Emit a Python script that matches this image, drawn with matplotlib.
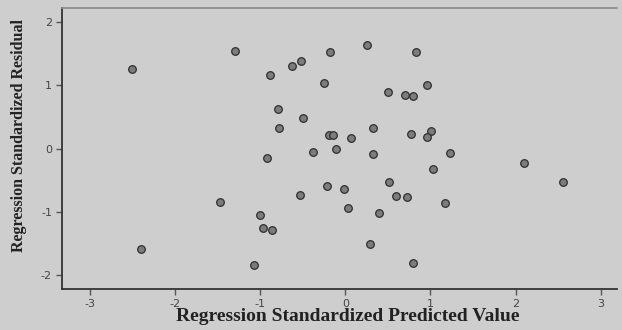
import matplotlib
matplotlib.use("Agg")
import matplotlib.pyplot as plt

# standardized predicted values (x) and standardized residuals (y)
pred = [-2.50, -1.30, -0.89, -0.63, -0.52, -0.18, 0.26, 0.835, -0.25, 0.50,
        0.70, 0.79, 0.96, -0.79, -0.50, -0.78, -0.19, -0.15, 0.07, 0.32,
        0.77, 1.01, 0.96, -0.92, -0.38, -0.11, 0.33, 1.23, 2.10, 1.03,
        2.56, 0.72, 1.17, 0.80, -1.47, -1.00, -0.97, -0.86, -1.07, -0.53,
        -0.21, -0.01, 0.03, 0.51, 0.60, 0.40, 0.29, -2.40]
resid = [1.26, 1.54, 1.16, 1.31, 1.39, 1.53, 1.64, 1.53, 1.04, 0.89,
         0.85, 0.83, 1.01, 0.63, 0.48, 0.33, 0.21, 0.21, 0.17, 0.32,
         0.23, 0.28, 0.19, -0.15, -0.05, 0.00, -0.09, -0.07, -0.23, -0.32,
         -0.52, -0.77, -0.86, -1.80, -0.85, -1.05, -1.25, -1.28, -1.84, -0.73,
         -0.59, -0.63, -0.94, -0.53, -0.75, -1.01, -1.50, -1.59]
xticks = [-3, -2, -1, 0, 1, 2, 3]
yticks = [-2, -1, 0, 1, 2]

bg = "#cecece"
fig = plt.figure(figsize=(6.22, 3.30), dpi=100, facecolor=bg)
ax = fig.add_axes([0.0992, 0.124, 0.8928, 0.853])
ax.set_facecolor(bg)

ax.scatter(pred, resid, s=30, c="#7c7c7c", edgecolors="#2e2e2e", linewidths=0.9, zorder=3)

ax.set_xlim(-3.33, 3.19)
ax.set_ylim(-2.22, 2.23)
ax.set_xticks(xticks)
ax.set_yticks(yticks)
ax.set_xticklabels([str(t) for t in xticks])
ax.set_yticklabels([str(t) for t in yticks])
ax.tick_params(direction="out", length=4, width=1, color="#555555",
               labelcolor="#444444", labelsize=8, pad=3)

for s in ["left", "bottom"]:
    ax.spines[s].set_color("#333333")
    ax.spines[s].set_linewidth(1.3)
ax.spines["top"].set_color("#8a8a8a")
ax.spines["top"].set_linewidth(1.2)
ax.spines["right"].set_visible(False)

ax.set_xlabel("Regression Standardized Predicted Value", family="Liberation Serif",
              fontweight="bold", fontsize=14, color="#222222")
ax.set_ylabel("Regression Standardized Residual", family="Liberation Serif",
              fontweight="bold", fontsize=11.5, color="#222222")
ax.xaxis.set_label_coords(0.515, -0.068)
ax.yaxis.set_label_coords(-0.062, 0.545)

fig.savefig("out.png", dpi=100, facecolor=bg)
